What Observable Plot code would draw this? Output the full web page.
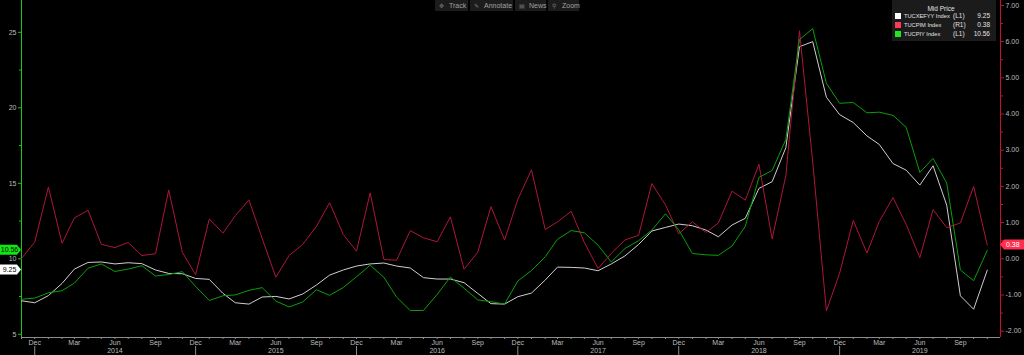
<!DOCTYPE html>
<html><head><meta charset="utf-8">
<script src="https://cdn.jsdelivr.net/npm/d3@7"></script>
<script src="https://cdn.jsdelivr.net/npm/@observablehq/plot@0.6"></script>
<style>
html,body{margin:0;padding:0;background:#000;overflow:hidden}
#chart{position:relative;width:1024px;height:355px}
</style></head><body><div id="chart"></div>
<script>
// ---- data (monthly, Nov 2013 .. Nov 2019) ----
const firstMonth = Date.UTC(2013, 10, 1);
const afterLastMonth = Date.UTC(2019, 11, 1);
const coreYoY = [7.22, 7.09,
  7.56, 8.37, 9.32, 9.76, 9.79, 9.66, 9.74, 9.68, 9.26, 9.03, 9.01, 8.70,
  8.64, 7.71, 7.09, 7.00, 7.47, 7.51, 7.34, 7.67, 8.26, 8.92, 9.26, 9.52,
  9.66, 9.72, 9.52, 9.39, 8.75, 8.66, 8.66, 8.42, 7.71, 7.03, 7.00, 7.49,
  7.73, 8.59, 9.45, 9.43, 9.39, 9.21, 9.66, 10.19, 10.95, 11.84, 12.08, 12.30,
  12.19, 11.90, 11.46, 12.24, 12.68, 14.66, 15.11, 17.36, 24.05, 24.38, 20.70, 19.55,
  19.02, 18.14, 17.57, 16.31, 15.87, 14.88, 16.16, 13.55, 7.55, 6.66, 9.25];
const cpiMoM = [0.01, 0.46,
  1.98, 0.43, 1.13, 1.34, 0.40, 0.31, 0.45, 0.09, 0.14, 1.90, 0.18, -0.44,
  1.10, 0.71, 1.19, 1.63, 0.56, -0.51, 0.09, 0.40, 0.89, 1.55, 0.67, 0.21,
  1.82, -0.02, -0.04, 0.78, 0.58, 0.47, 1.16, -0.29, 0.18, 1.44, 0.52, 1.64,
  2.46, 0.81, 1.02, 1.31, 0.45, -0.27, 0.15, 0.52, 0.65, 2.08, 1.49, 0.69,
  1.02, 0.73, 0.99, 1.87, 1.62, 2.61, 0.55, 2.30, 6.30, 2.67, -1.44, -0.40,
  1.06, 0.16, 1.03, 1.69, 0.95, 0.03, 1.36, 0.86, 0.99, 2.00, 0.38];
const cpiYoY = [7.32, 7.40,
  7.75, 7.89, 8.39, 9.38, 9.66, 9.16, 9.32, 9.54, 8.86, 8.96, 9.15, 8.17,
  7.24, 7.55, 7.61, 7.91, 8.09, 7.20, 6.81, 7.14, 7.95, 7.58, 8.10, 8.81,
  9.58, 8.78, 7.46, 6.57, 6.58, 7.64, 8.79, 8.05, 7.28, 7.16, 7.00, 8.53,
  9.22, 10.13, 11.29, 11.87, 11.72, 10.90, 9.79, 10.68, 11.20, 11.90, 12.98, 11.92,
  10.35, 10.26, 10.23, 10.85, 12.15, 15.39, 15.85, 17.90, 24.52, 25.24, 21.62, 20.30,
  20.35, 19.67, 19.71, 19.50, 18.71, 15.72, 16.65, 15.01, 9.26, 8.55, 10.56];

const seriesNames = ["TUCXEFYY Index", "TUCPIM Index", "TUCPIY Index"];
const seriesAxes = ["(L1)", "(R1)", "(L1)"];
const seriesColors = ["#cfcfcf", "#b0163a", "#0a9f0a"];
const legendSwatches = ["#ffffff", "#ff3a55", "#22e622"];
const legendTitle = "Mid Price";
const toolbarItems = ["Track", "Annotate", "News", "Zoom"];
const toolbarIcons = ["\u2725", "\u270E", "\u25A4", "\u26B2"];

const leftTicks = [5, 10, 15, 20, 25];
const leftMinorTicks = [7.5, 12.5, 17.5, 22.5];
const rightTicks = [-2, -1, 0, 1, 2, 3, 4, 5, 6, 7];
const rightMinorTicks = [-1.5, -0.5, 0.5, 1.5, 2.5, 3.5, 4.5, 5.5, 6.5];
const leftDomain = [4.788, 27.106];

// right axis (R1) mapped onto the left scale
const R_ZERO = 10, R_K = 2.397;
const toLeft = r => R_ZERO + R_K * r;
const fromLeft = v => (v - R_ZERO) / R_K;

// ---- table ----
const months = d3.utcMonths(new Date(firstMonth), new Date(afterLastMonth));
const rows = months.map((date, i) => ({date, core: coreYoY[i], mom: cpiMoM[i], yoy: cpiYoY[i]}));
const quarterMonths = months.filter(d => d.getUTCMonth() % 3 === 2);
const yearLabelMonths = months.filter(d => d.getUTCMonth() === 5);
const decMonths = months.filter(d => d.getUTCMonth() === 11);
const xDomain = [new Date(firstMonth), new Date(afterLastMonth)];

const GREEN_AXIS = "#19c819", RED_AXIS = "#c8102e", GRID_TXT = "#bcbcbc", BASE = "#8c8c8c";

const plot = Plot.plot({
  width: 1024, height: 355,
  marginLeft: 21, marginRight: 24, marginTop: 0, marginBottom: 18,
  style: {background: "#000", color: GRID_TXT, fontFamily: "'Liberation Sans', Arial, sans-serif", fontSize: "7px"},
  x: {type: "utc", domain: xDomain, label: null},
  y: {domain: leftDomain, label: null},
  marks: [
    Plot.ruleY([leftDomain[0]], {stroke: BASE}),
    Plot.axisX(months, {anchor: "bottom", tickSize: 2, tickFormat: () => "", stroke: BASE, label: null}),
    Plot.axisX(decMonths, {anchor: "bottom", tickSize: 9, dy: 9, tickFormat: () => "", stroke: BASE, label: null}),
    Plot.axisX(quarterMonths, {anchor: "bottom", tickSize: 0, tickPadding: 3, tickFormat: d3.utcFormat("%b"), fill: GRID_TXT, label: null}),
    Plot.axisX(yearLabelMonths, {anchor: "bottom", tickSize: 0, tickPadding: 11, tickFormat: d3.utcFormat("%Y"), fill: GRID_TXT, label: null}),
    Plot.axisY(leftTicks, {anchor: "left", tickSize: 3, tickPadding: 2, stroke: GREEN_AXIS, fill: GRID_TXT, label: null}),
    Plot.axisY(leftMinorTicks, {anchor: "left", tickSize: 2, tickFormat: () => "", stroke: GREEN_AXIS, label: null}),
    Plot.axisY(rightTicks.map(toLeft), {anchor: "right", tickSize: 3, tickPadding: 2,
      tickFormat: d => (Math.round(fromLeft(d) * 100) / 100).toFixed(2), stroke: RED_AXIS, fill: GRID_TXT, label: null}),
    Plot.axisY(rightMinorTicks.map(toLeft), {anchor: "right", tickSize: 2, tickFormat: () => "", stroke: RED_AXIS, label: null}),
    Plot.ruleX([xDomain[0]], {stroke: GREEN_AXIS}),
    Plot.ruleX([xDomain[1]], {stroke: RED_AXIS}),
    Plot.line(rows, {x: "date", y: "core", stroke: seriesColors[0], strokeWidth: 1}),
    Plot.line(rows, {x: "date", y: d => toLeft(d.mom), stroke: seriesColors[1], strokeWidth: 1}),
    Plot.line(rows, {x: "date", y: "yoy", stroke: seriesColors[2], strokeWidth: 1})
  ]
});
document.getElementById("chart").appendChild(plot);

// ---- overlays: value tags, legend, toolbar ----
const svg = d3.select(plot);
const yS = plot.scale("y");
const FONT = "'Liberation Sans', Arial, sans-serif";
const last = a => a[a.length - 1];

function leftTag(value, fill, textFill) {
  const cy = yS.apply(value);
  const g = svg.append("g");
  g.append("path").attr("d", `M0,${cy - 5}H17L21,${cy}L17,${cy + 5}H0Z`).attr("fill", fill);
  g.append("text").attr("x", 9.5).attr("y", cy).attr("dy", "0.36em").attr("text-anchor", "middle")
    .attr("fill", textFill).attr("font-family", FONT).attr("font-size", 7).text(value.toFixed(2));
}
leftTag(last(cpiYoY), "#11e611", "#000");
leftTag(last(coreYoY), "#ffffff", "#000");
{
  const v = last(cpiMoM), cy = yS.apply(toLeft(v));
  const g = svg.append("g");
  g.append("path").attr("d", `M1000,${cy}L1004,${cy - 5}H1024V${cy + 5}H1004Z`).attr("fill", "#ff2f50");
  g.append("text").attr("x", 1006).attr("y", cy).attr("dy", "0.36em").attr("text-anchor", "start").attr("fill", "#fff")
    .attr("font-family", FONT).attr("font-size", 7).text(v.toFixed(2));
}

// legend
const lg = svg.append("g").attr("font-family", FONT).attr("font-size", 6.5).attr("fill", "#e2e2e2").attr("text-anchor", "start");
lg.append("rect").attr("x", 892).attr("y", 0).attr("width", 104).attr("height", 41).attr("fill", "#1b1b1b");
lg.append("text").attr("x", 941).attr("y", 10.5).attr("text-anchor", "middle").text(legendTitle);
const lastVals = [last(coreYoY), last(cpiMoM), last(cpiYoY)];
seriesNames.forEach((name, i) => {
  const cy = 16 + i * 9;
  lg.append("rect").attr("x", 895).attr("y", cy - 3).attr("width", 6).attr("height", 6).attr("fill", legendSwatches[i]);
  lg.append("text").attr("x", 904).attr("y", cy).attr("dy", "0.36em").attr("font-size", 5.7).text(name);
  lg.append("text").attr("x", 953).attr("y", cy).attr("dy", "0.36em").text(seriesAxes[i]);
  lg.append("text").attr("x", 990).attr("y", cy).attr("dy", "0.36em").attr("text-anchor", "end").text(lastVals[i].toFixed(2));
});

// toolbar
const tb = svg.append("g").attr("font-family", FONT).attr("font-size", 7).attr("text-anchor", "start");
const tbBoxes = [[435, 469], [470, 514], [515, 547], [548, 580]];
toolbarItems.forEach((label, i) => {
  const [x0, x1] = tbBoxes[i];
  tb.append("rect").attr("x", x0).attr("y", 0).attr("width", x1 - x0 - 1).attr("height", 11).attr("fill", "#1c1c1c");
  tb.append("text").attr("x", x0 + 4).attr("y", 8).attr("fill", "#777").attr("font-family", "DejaVu Sans").attr("font-size", 6).text(toolbarIcons[i]);
  tb.append("text").attr("x", x0 + 14).attr("y", 8).attr("fill", "#a0a0a0").text(label);
});
</script>
</body></html>
